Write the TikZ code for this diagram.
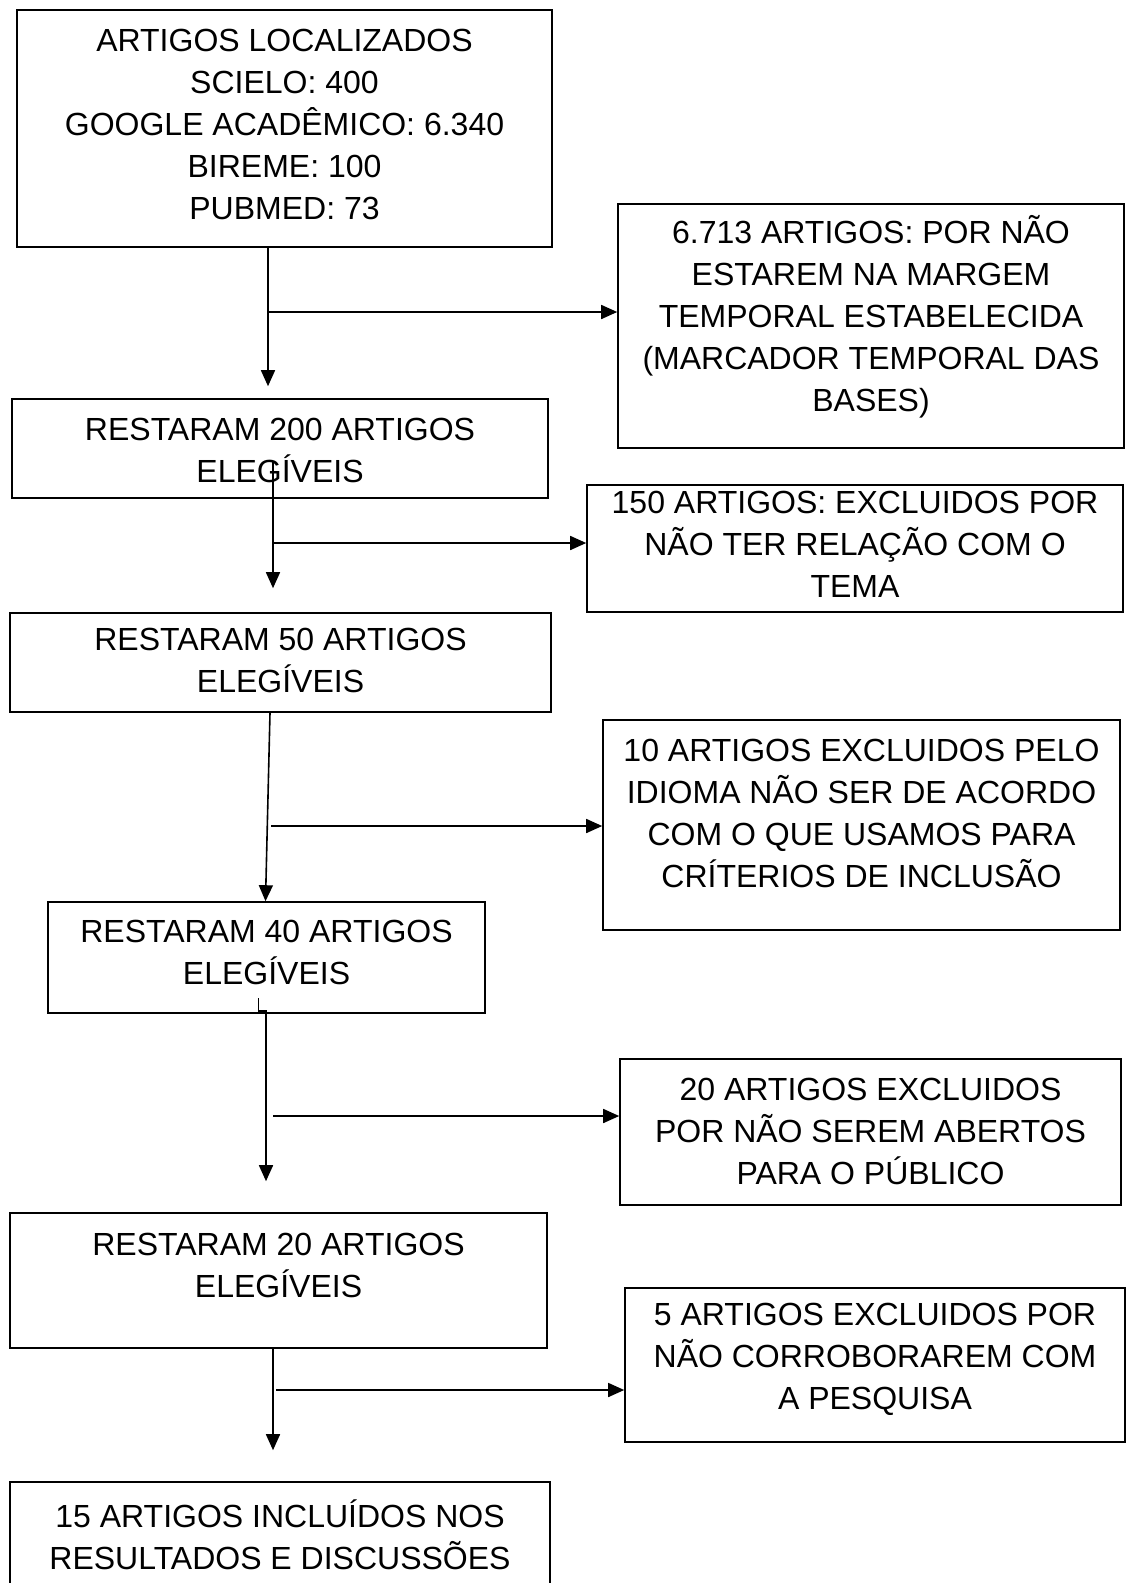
\documentclass[tikz,border=0pt]{standalone}
\usepackage{fontspec}
\setmainfont{Liberation Sans}
\usetikzlibrary{arrows.meta,calc}
\tikzstyle{caixa}=[rectangle,draw=black,line width=1.6pt,inner sep=0pt]
\tikzstyle{texto}=[align=center,inner sep=0pt,font=\fontsize{32}{42}\selectfont]
\tikzstyle{seta}=[line width=1.6pt,-{Triangle[length=16pt,width=14pt]}]

\begin{document}
\begin{tikzpicture}[x=1pt,y=-1pt]
	\useasboundingbox (0,0) rectangle (1126,1583);
	\clip (0,0) rectangle (1126,1583);
	% caixas
	\node [style=caixa,minimum width=535pt,minimum height=237pt] (0) at (284.5,128.5) {};
	\node [style=caixa,minimum width=506pt,minimum height=244pt] (1) at (871,326) {};
	\node [style=caixa,minimum width=536pt,minimum height=99pt] (2) at (280,448.5) {};
	\node [style=caixa,minimum width=536pt,minimum height=127pt] (3) at (855,548.5) {};
	\node [style=caixa,minimum width=541pt,minimum height=99pt] (4) at (280.5,662.5) {};
	\node [style=caixa,minimum width=517pt,minimum height=210pt] (5) at (861.5,825) {};
	\node [style=caixa,minimum width=437pt,minimum height=111pt] (6) at (266.5,957.5) {};
	\node [style=caixa,minimum width=501pt,minimum height=146pt] (7) at (870.5,1132) {};
	\node [style=caixa,minimum width=537pt,minimum height=135pt] (8) at (278.5,1280.5) {};
	\node [style=caixa,minimum width=500pt,minimum height=154pt] (9) at (875,1365) {};
	\node [style=caixa,minimum width=540pt,minimum height=140pt] (10) at (280,1552) {};
	% textos
	\node [style=texto] (t0) at (284.5,124) {ARTIGOS LOCALIZADOS\\SCIELO: 400\\GOOGLE ACADÊMICO: 6.340\\BIREME: 100\\PUBMED: 73};
	\node [style=texto] (t1) at (871,317) {6.713 ARTIGOS: POR NÃO\\ESTAREM NA MARGEM\\TEMPORAL ESTABELECIDA\\(MARCADOR TEMPORAL DAS\\BASES)};
	\node [style=texto] (t2) at (280,450) {RESTARAM 200 ARTIGOS\\ELEGÍVEIS};
	\node [style=texto] (t3) at (855,544) {150 ARTIGOS: EXCLUIDOS POR\\NÃO TER RELAÇÃO COM O\\TEMA};
	\node [style=texto] (t4) at (280.5,660) {RESTARAM 50 ARTIGOS\\ELEGÍVEIS};
	\node [style=texto] (t5) at (861.5,813) {10 ARTIGOS EXCLUIDOS PELO\\IDIOMA NÃO SER DE ACORDO\\COM O QUE USAMOS PARA\\CRÍTERIOS DE INCLUSÃO};
	\node [style=texto] (t6) at (266.5,952) {RESTARAM 40 ARTIGOS\\ELEGÍVEIS};
	\node [style=texto] (t7) at (870.5,1131) {20 ARTIGOS EXCLUIDOS\\POR NÃO SEREM ABERTOS\\PARA O PÚBLICO};
	\node [style=texto] (t8) at (278.5,1265) {RESTARAM 20 ARTIGOS\\ELEGÍVEIS};
	\node [style=texto] (t9) at (875,1359) {5 ARTIGOS EXCLUIDOS POR\\NÃO CORROBORAREM COM\\A PESQUISA};
	\node [style=texto] (t10) at (280,1535) {15 ARTIGOS INCLUÍDOS NOS\\RESULTADOS E DISCUSSÕES};
	% pontos das setas
	\coordinate (h1) at (268,312);
	\coordinate (p2) at (273,462);
	\coordinate (h2) at (273,543);
	\coordinate (p3) at (270,700);
	\coordinate (q3) at (265.5,900);
	\coordinate (h3) at (271,826);
	\coordinate (p4) at (258.5,998);
	\coordinate (q4) at (266,1011);
	\coordinate (h4) at (273,1116);
	\coordinate (p5) at (273,1348);
	\coordinate (h5) at (276,1390);
	% setas
	\draw [style=seta,shorten >=12pt] (0.south -| h1) to (2.north -| h1);
	\draw [style=seta] (h1) to (1.west |- h1);
	\draw [style=seta,shorten >=24pt] (p2) to (4.north -| p2);
	\draw [style=seta] (h2) to (3.west |- h2);
	\draw [style=seta] (4.south -| p3) to (6.north -| q3);
	\draw [style=seta] (h3) to (5.west |- h3);
	\draw [style=seta,shorten >=31pt] (p4) |- (q4) -- (q4 |- 8.north);
	\draw [style=seta] (h4) to (7.west |- h4);
	\draw [style=seta,shorten >=31pt] (8.south -| p5) to (10.north -| p5);
	\draw [style=seta] (h5) to (9.west |- h5);
\end{tikzpicture}
\end{document}
